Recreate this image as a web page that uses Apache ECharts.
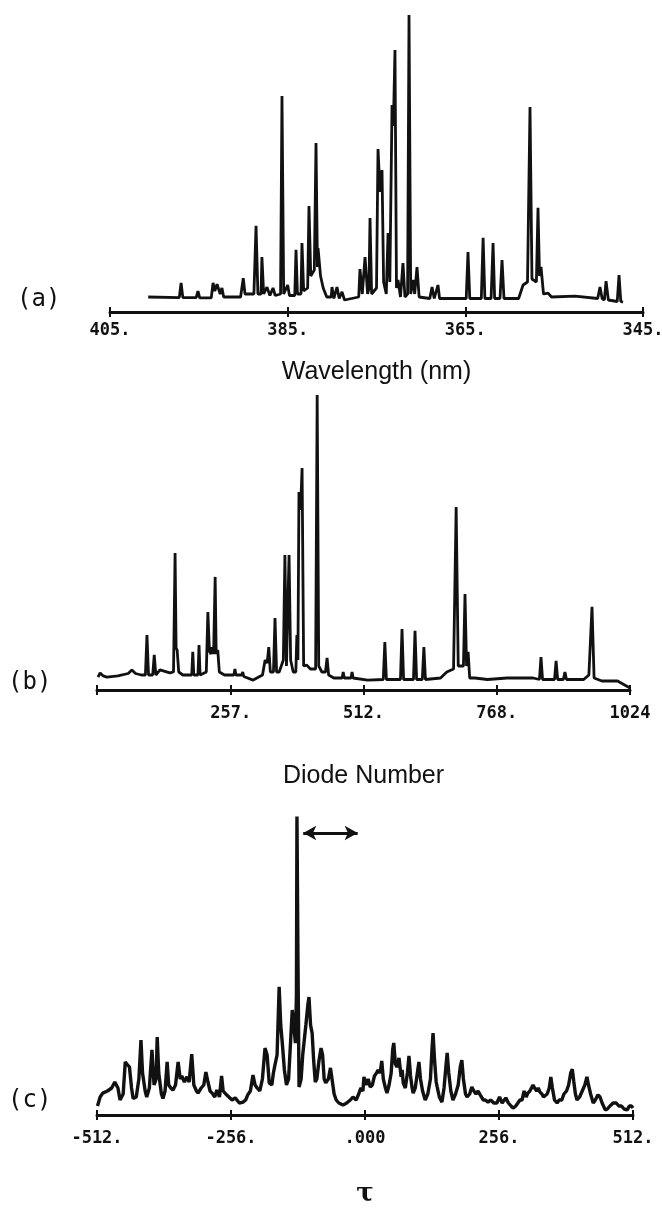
<!DOCTYPE html>
<html>
<head>
<meta charset="utf-8">
<script src="https://cdn.jsdelivr.net/npm/echarts@6.0.0/dist/echarts.min.js"></script>
<style>
  html, body { margin: 0; padding: 0; background: #fff; }
  #chart { width: 662px; height: 1209px; }
</style>
</head>
<body>
<div id="chart"></div>
<script>
// (a) emission spectrum vs wavelength, [nm, intensity]
const specA = [
  [400.7,5],[397.2,4.8],[397.0,9.7],[396.8,4.8],[395.3,4.8],[395.1,7],[394.9,4.7],[393.6,4.7],[393.4,9.7],[393.2,7],
  [392.95,9.3],[392.6,6],[392.4,8],[392.2,5],[390.3,5],[390.0,11.3],[389.8,6],[388.8,6],[388.56,28.7],[388.35,6],
  [388.0,6],[387.9,18.3],[387.7,6],[387.33,8.3],[387.0,5.5],[386.65,8],[386.4,5.5],[385.8,6],[385.64,72],[385.45,6],
  [385.0,9],[384.8,5.5],[384.2,5.5],[384.06,20.7],[383.9,6],[383.5,6],[383.39,23],[383.2,7],[382.75,8],[382.6,35.3],
  [382.4,12],[382.0,14],[381.81,56.3],[381.65,15],[381.58,21.3],[381.3,12],[381.0,8],[380.6,5],[380.1,5],[380.01,8.3],
  [379.8,4.5],[379.45,8.3],[379.2,4.5],[378.88,6.7],[378.6,4],[377.0,5],[376.86,14.3],[376.6,6],[376.29,18.3],[376.0,6],
  [375.85,8],[375.73,31.3],[375.55,6],[375.0,8],[374.83,54.3],[374.6,40],[374.38,47.3],[374.2,10],[373.9,6],[373.7,26.3],
  [373.5,10],[373.25,69],[373.1,62],[372.92,87.3],[372.75,8],[372.58,10.7],[372.3,5],[372.02,16.3],[371.8,5],[371.5,6],
  [371.34,99],[371.15,6],[370.89,10.7],[370.7,6],[370.44,15],[370.2,5],[369.0,4.5],[368.75,8.3],[368.5,4.5],[368.3,4.5],
  [368.08,9],[367.9,4.5],[364.9,4.5],[364.7,20],[364.5,4.5],[363.2,4.5],[363.0,24.7],[362.8,4.5],[362.1,4.5],[361.88,23],
  [361.7,4.5],[361.1,4.5],[360.87,17.3],[360.65,4.5],[359.0,4.5],[358.5,9],[358.0,10],[357.72,68.3],[357.5,11],[357.0,10],
  [356.82,34.7],[356.65,12],[356.48,15],[356.2,6],[355.69,6.3],[355.3,5],[352.65,5.3],[350.1,4.5],[349.84,8.3],[349.6,4.5],
  [349.35,4],[349.16,10.3],[348.9,4],[347.9,3.5],[347.7,12.3],[347.5,3.5],[347.25,3.3]
];

// (b) same spectrum vs diode number, [diode, intensity]
const specB = [
  [2,4.3],[6,5.7],[12,4.7],[19,4.3],[40,4.7],[60,5.5],[67,6.7],[74,5.5],[85,5],[93,5],[96,18.3],[99,5],[107,5],[110,11.7],
  [113,5],[121,6.7],[140,5.7],[147,6],[150,45.7],[152,14],[154,13.3],[157,6],[165,5],[182,5],[184,12.7],[186,5],[194,5],
  [196,15],[198,5],[210,6],[213,26],[216,13],[219,12],[221,14.3],[224,12],[227,37.7],[229,12],[232,13.3],[235,6],[245,5],
  [263,5],[265,7],[267,5],[278,5],[280,6],[282,4.5],[300,3.3],[318,5],[323,10],[327,9],[330,14.3],[333,6],[339,6],[342,24],
  [345,6],[350,6],[358,10],[361,45],[364,8],[366,8],[369,45],[372,10],[377,6],[382,6],[384,18.3],[386,10],[388,66],[391,60],
  [394,74],[397,8],[403,8.3],[410,7],[420,7],[423,98.3],[426,8],[432,6],[439,6],[442,10.7],[445,5],[455,4],[471,4],[473,6],
  [475,4],[488,4],[490,6],[492,4],[520,3.3],[550,3.5],[553,16],[556,3.5],[583,3.5],[586,20.3],[589,3.5],[608,3.5],[611,19.7],
  [614,3.5],[625,3.5],[628,14.3],[631,3.5],[660,4],[672,6],[685,7],[690,61],[694,8],[704,8],[707,32],[710,8],[713,12.7],
  [716,4],[726,4],[750,3.5],[788,4],[838,4],[850,3.5],[853,11],[856,3.5],[879,3.5],[882,9.7],[885,3.5],[896,3.5],[899,6],
  [902,3.5],[935,3.5],[945,5],[951,27.7],[955,4],[970,3],[1000,3],[1024,0.7]
];

// (c) transform vs tau, [tau, value]
const specC = [
  [-511,3],[-506,6],[-501,7.3],[-492,8],[-484,9],[-478,11],[-472,9],[-468,5],[-462,7],[-458,17.7],[-455,17],[-450,16],
  [-446,9],[-443,5.5],[-437,6],[-432,12],[-428,25],[-425,14],[-420,8],[-417,6],[-412,9],[-407,21.7],[-403,10],[-399,12],
  [-397,26],[-394,14],[-389,7],[-386,5.5],[-382,8],[-378,17.7],[-375,10],[-371,9],[-367,8.3],[-362,10],[-357,17.7],[-353,12],
  [-350,13],[-345,11],[-340,12.7],[-336,11],[-331,20.3],[-327,10],[-322,8],[-319,7.3],[-313,9],[-308,10],[-304,14.3],[-300,11],
  [-296,8],[-292,7.3],[-287,6],[-283,8.3],[-278,6],[-274,13],[-271,8],[-266,7],[-260,6],[-254,5],[-248,5.7],[-240,4],
  [-233,4.3],[-228,5],[-224,6.7],[-219,8],[-214,13.3],[-210,10],[-206,9],[-201,8],[-196,12],[-191,22.3],[-187,20],[-183,10.7],
  [-178,10],[-175,14],[-172,16.7],[-168,20],[-164,42.7],[-161,30],[-158,24],[-154,15],[-150,10],[-146,12],[-142,25],[-139,35],
  [-136,30],[-133,24],[-131,40],[-130,99.5],[-128,50],[-126,9.3],[-122,12],[-119,20],[-116,25],[-113,30],[-109,37],[-107,39.3],
  [-104,30],[-101,27.3],[-98,18],[-95,11],[-92,12],[-88,18],[-84,22.3],[-81,20],[-78,12],[-75,10.7],[-70,12],[-66,15.7],
  [-63,12],[-59,7],[-55,5],[-50,4],[-42,3.3],[-35,4],[-28,5],[-23,6],[-17,5],[-12,7],[-8,9],[-4,8],[-2,12.7],[2,10],[6,12],
  [10,9.3],[14,10],[18,13],[22,14],[25,15],[29,14],[32,18],[35,12],[39,9],[42,7.3],[46,10],[50,14],[53,22],[55,24],[58,17],
  [61,16],[65,19],[69,12.7],[71,15],[73,10.7],[77,9],[81,14],[84,19.7],[87,13],[90,9],[92,7.3],[96,9],[100,14],[103,17.7],
  [106,12],[110,8],[115,5],[120,7],[125,12],[128,22],[130,27.3],[133,18],[136,11],[138,9.3],[142,6],[147,4.3],[151,9],[155,17],
  [157,20.7],[160,14],[164,8],[168,5],[173,7],[178,10],[182,16],[185,18.3],[188,12],[192,7],[195,6],[200,7],[204,9.3],[208,8],
  [212,7],[216,8],[220,6.7],[226,5],[230,5],[235,4.3],[240,5],[246,4],[252,4],[257,6],[262,4],[269,5.7],[274,4],[279,3],
  [283,2.3],[288,3],[292,4],[296,5],[300,5],[304,8],[308,6],[311,7.3],[315,8],[318,9],[321,10],[324,9],[328,8],[331,9],
  [334,7.7],[338,7],[341,6],[344,6],[348,7],[352,9],[355,12.7],[358,9],[362,5],[367,4],[371,5],[376,5],[380,7],[385,8],
  [389,10],[393,14],[396,15.3],[399,11],[402,7],[405,5],[410,6],[415,8],[420,10],[424,12.7],[427,10],[431,7],[436,4],[440,5],
  [445,6.7],[449,6],[453,4],[459,1.7],[463,2],[468,3],[474,4],[480,4],[485,3],[490,3],[495,2],[501,1.7],[505,3],[509,3],[512,2.3]
];

// axis ticks and their printed labels
const aTicks = [405, 385, 365, 345];
const aLabels = ['405.', '385.', '365.', '345.'];
const bTicks = [0, 257, 512, 768, 1024];
const bLabelTicks = [257, 512, 768, 1024];
const bLabels = ['257.', '512.', '768.', '1024'];
const cTicks = [-512, -256, 0, 256, 512];
const cLabels = ['-512.', '-256.', '.000', '256.', '512.'];

// double arrow above the central spike in (c)
const arrowSpan = [-118, -14];
const arrowLevel = 94;

const ink = '#111';
const tickFont = { fontFamily: 'DejaVu Sans Mono', fontWeight: 'bold', fontSize: 17, color: ink };
const nameFont = { fontFamily: 'Liberation Sans', fontSize: 25, color: ink };

function label(ticks, labels) {
  return function (v) {
    const i = ticks.indexOf(v);
    return i >= 0 ? labels[i] : '';
  };
}

// main axis (outer ticks + labels) and a twin that only draws the inner half of the ticks
function axisPair(grid, min, max, ticks, labelTicks, labels, margin, inverse, name, nameGap, nameStyle) {
  return [{
    type: 'value', gridIndex: grid, position: 'bottom', min: min, max: max, inverse: inverse,
    splitLine: { show: false },
    axisLine: { lineStyle: { color: ink, width: 3 } },
    axisTick: { customValues: ticks, length: 5, lineStyle: { color: ink, width: 2 } },
    axisLabel: Object.assign({ customValues: labelTicks, margin: margin, formatter: label(labelTicks, labels) }, tickFont),
    name: name, nameLocation: 'middle', nameGap: nameGap, nameTextStyle: nameStyle
  }, {
    type: 'value', gridIndex: grid, position: 'bottom', min: min, max: max, inverse: inverse,
    splitLine: { show: false },
    axisLine: { show: false },
    axisTick: { customValues: ticks, inside: true, length: 5, lineStyle: { color: ink, width: 2 } },
    axisLabel: { show: false }
  }];
}

const chart = echarts.init(document.getElementById('chart'));
chart.setOption({
  animation: false,
  backgroundColor: '#fff',
  grid: [
    { left: 110, top: 12, width: 533, height: 300, outerBoundsMode: 'none' },
    { left: 97, top: 390, width: 533, height: 300, outerBoundsMode: 'none' },
    { left: 97, top: 815, width: 536, height: 300, outerBoundsMode: 'none' }
  ],
  xAxis: [].concat(
    axisPair(0, 345, 405, aTicks, aTicks, aLabels, 10, true, 'Wavelength (nm)', 48, nameFont),
    axisPair(1, 0, 1024, bTicks, bLabelTicks, bLabels, 15, false, 'Diode Number', 74, nameFont),
    axisPair(2, -512, 512, cTicks, cTicks, cLabels, 15, false, 'τ', 66,
      { fontFamily: 'DejaVu Serif', fontWeight: 'bold', fontSize: 26, color: ink })
  ),
  yAxis: [0, 1, 2].map(function (g) {
    return { type: 'value', gridIndex: g, min: 0, max: 100, show: false };
  }),
  graphic: [
    { type: 'text', left: 17, top: 288, style: { text: '(a)', font: '24px "DejaVu Sans Mono"', fill: ink } },
    { type: 'text', left: 8, top: 671, style: { text: '(b)', font: '24px "DejaVu Sans Mono"', fill: ink } },
    { type: 'text', left: 8, top: 1089, style: { text: '(c)', font: '24px "DejaVu Sans Mono"', fill: ink } }
  ],
  series: [
    { type: 'line', xAxisIndex: 0, yAxisIndex: 0, data: specA, showSymbol: false,
      lineStyle: { color: ink, width: 2.8 } },
    { type: 'line', xAxisIndex: 2, yAxisIndex: 1, data: specB, showSymbol: false,
      lineStyle: { color: ink, width: 2.8 } },
    { type: 'line', xAxisIndex: 4, yAxisIndex: 2, data: specC, showSymbol: false,
      lineStyle: { color: ink, width: 3.4 },
      markLine: {
        silent: true, symbol: ['arrow', 'arrow'], symbolSize: [11, 13],
        label: { show: false },
        lineStyle: { color: ink, width: 3, type: 'solid' },
        data: [[{ coord: [arrowSpan[0], arrowLevel] }, { coord: [arrowSpan[1], arrowLevel] }]]
      } }
  ]
});
</script>
</body>
</html>
